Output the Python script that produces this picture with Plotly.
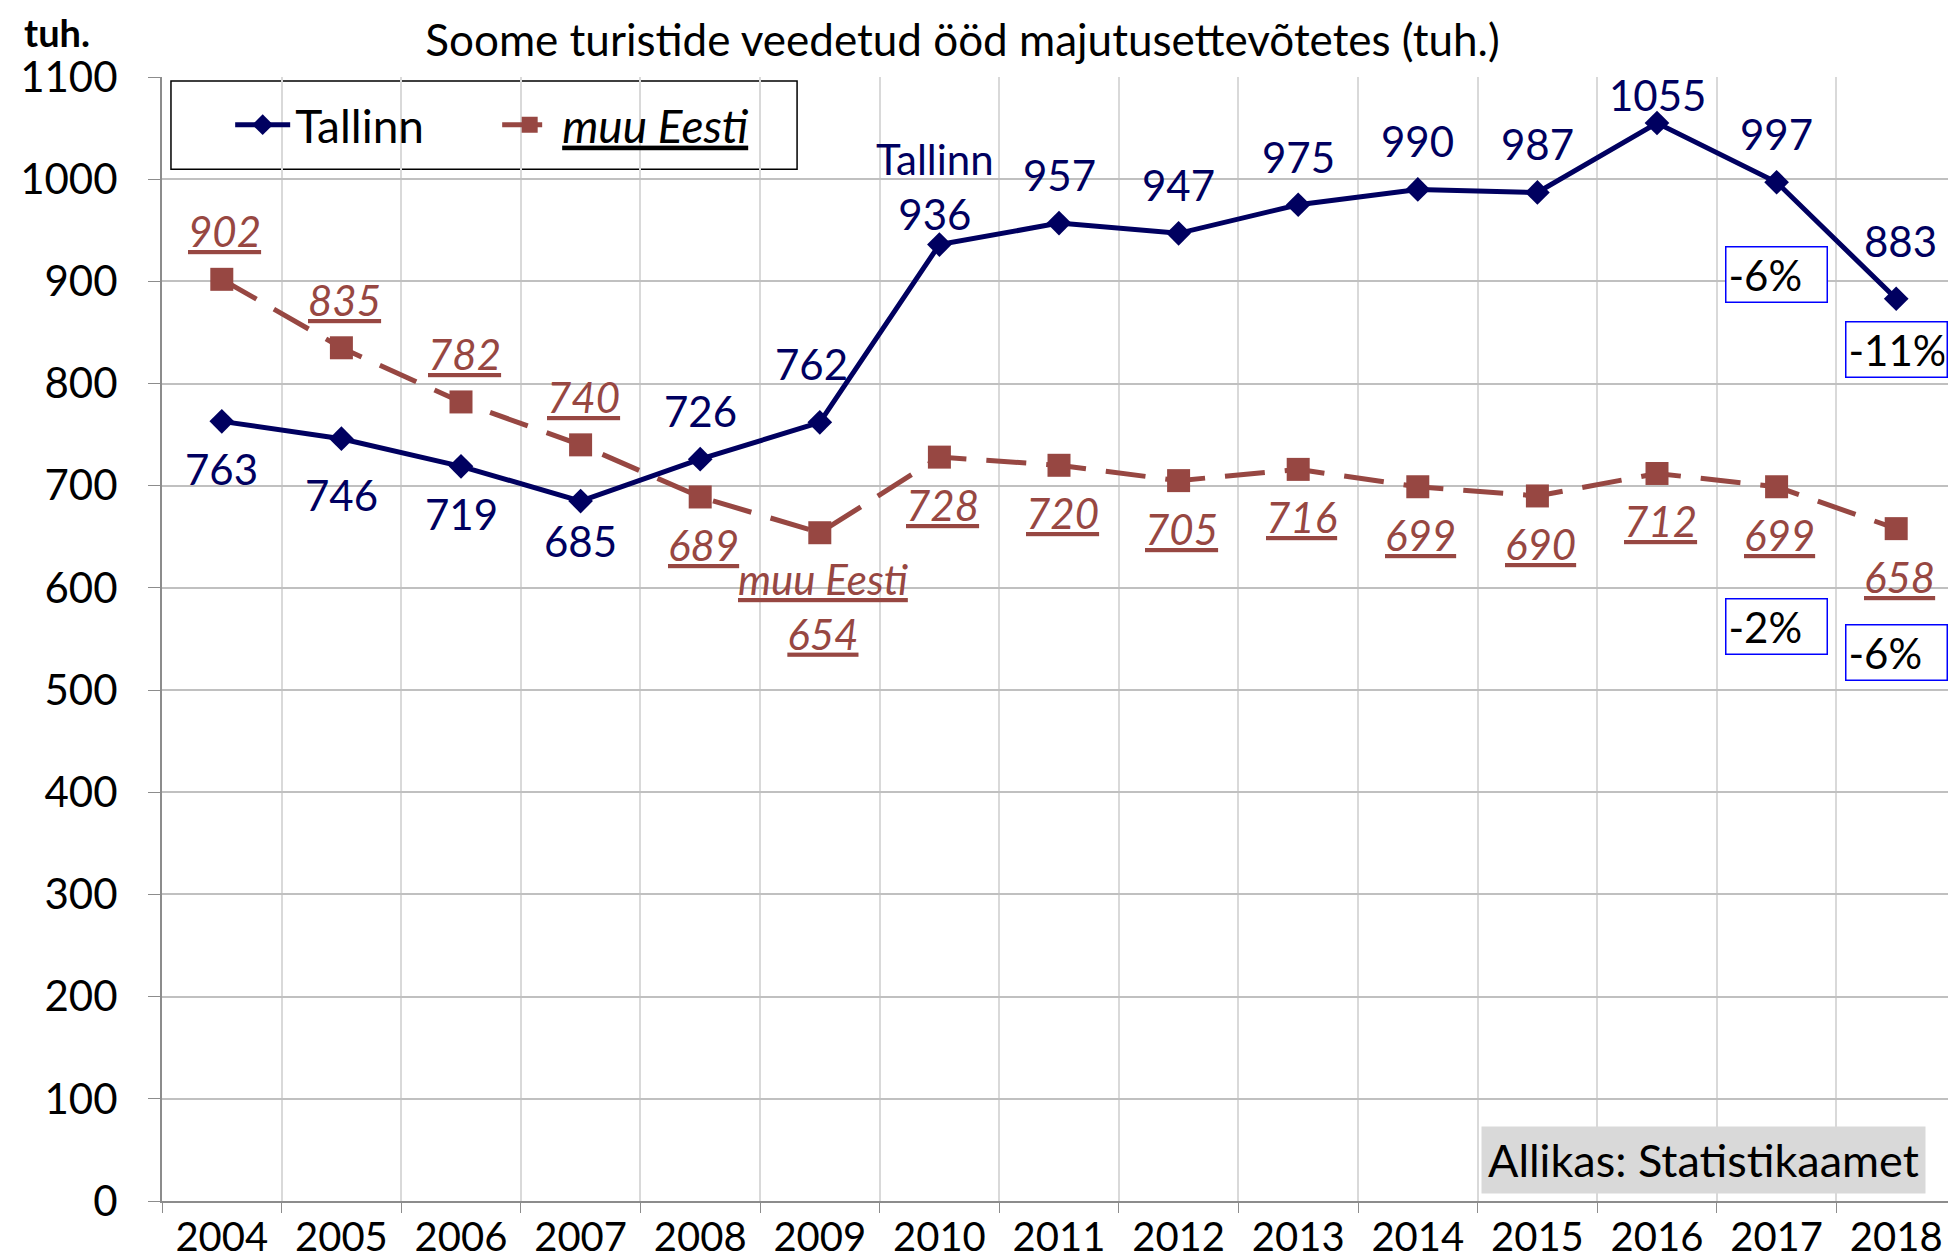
import plotly.graph_objects as go

years = [str(y) for y in range(2004, 2019)]
tallinn = [763, 746, 719, 685, 726, 762, 936, 957, 947, 975, 990, 987, 1055, 997, 883]
muu_eesti = [902, 835, 782, 740, 689, 654, 728, 720, 705, 716, 699, 690, 712, 699, 658]

# where each value label sits: +1 above the point, -1 below
tallinn_side = [-1, -1, -1, -1, 1, 1, 1, 1, 1, 1, 1, 1, 1, 1, 1]
muu_side = [1, 1, 1, 1, -1, -1, -1, -1, -1, -1, -1, -1, -1, -1, -1]

# change boxes: (year, value position, text)
changes = [("2017", 907, "-6%"), ("2018", 833, "-11%"),
           ("2017", 562, "-2%"), ("2018", 537, "-6%")]

NAVY = "#000060"
BROWN = "#974742"
FONT = "Lato"

fig = go.Figure()
fig.add_trace(go.Scatter(
    x=years, y=tallinn, name="Tallinn", mode="lines+markers",
    line=dict(color=NAVY, width=5),
    marker=dict(symbol="diamond", size=19, color=NAVY),
))
fig.add_trace(go.Scatter(
    x=years, y=muu_eesti, name="<i><u>muu Eesti</u></i>", mode="lines+markers",
    line=dict(color=BROWN, width=5, dash="40px,20px"),
    marker=dict(symbol="square", size=23, color=BROWN),
))

annotations = []
for i, v in enumerate(tallinn):
    yr = years[i]
    txt = str(v)
    shift = 48 * tallinn_side[i]
    xs = 0
    if yr == "2005":
        shift = -56
    if yr == "2007":
        shift = -40
    if yr == "2010":
        txt = "Tallinn<br>" + txt
        shift = 58
        xs = -4
    if yr == "2016":
        shift = 28
    if yr == "2009":
        xs = -8
        shift = 58
    if yr == "2018":
        shift = 58
        xs = 4
    annotations.append(dict(x=i, y=v, text=txt, showarrow=False, yshift=shift, xshift=xs,
                            font=dict(color=NAVY, size=42, family=FONT)))
for i, v in enumerate(muu_eesti):
    yr = years[i]
    txt = "<i><u>%d</u></i>" % v
    shift = 48 * muu_side[i]
    if yr == "2009":
        txt = "<i><u>muu Eesti</u></i><br><i><u>%d</u></i>" % v
        shift = -74
    annotations.append(dict(x=i, y=v, text=txt, showarrow=False, yshift=shift, xshift=3,
                            font=dict(color=BROWN, size=42, family=FONT)))

for yr, pos, txt in changes:
    annotations.append(dict(x=years.index(yr), y=pos, text=txt, showarrow=False, align="left",
                            xanchor="center", yanchor="middle", width=96,
                            font=dict(color="black", size=42, family=FONT),
                            bordercolor="#0000ff", borderwidth=1.5, borderpad=2,
                            bgcolor="white"))

annotations.append(dict(x=0.859, y=40, xref="paper", yref="y", text="Allikas: Statistikaamet",
                        xanchor="center", yanchor="middle",
                        showarrow=False, bgcolor="#d9d9d9", borderpad=6,
                        font=dict(color="black", size=45, family=FONT)))
annotations.append(dict(x=-0.078, y=1.0398, xref="paper", yref="paper", text="<b>tuh.</b>",
                        showarrow=False, xanchor="left", yanchor="middle",
                        font=dict(color="black", size=38, family=FONT)))

# legend frame drawn as a shape so the entries can sit inside it freely
shapes = [dict(type="rect", xref="paper", yref="paper", x0=0.005, x1=0.354, y0=0.918, y1=0.9965,
               line=dict(color="black", width=1.5), fillcolor="white", layer="between")]

# the page body adds an 8px offset, so the figure is sized to fit the window
fig.update_layout(
    width=1948, height=1252,
    margin=dict(l=154, r=0, t=69, b=53),
    paper_bgcolor="white", plot_bgcolor="white",
    font=dict(family=FONT, size=40, color="black"),
    title=dict(text="Soome turistide veedetud ööd majutusettevõtetes (tuh.)",
               x=0.49, xanchor="center", y=0.974, yanchor="middle",
               font=dict(size=44, color="black", family=FONT)),
    legend=dict(x=0.038, y=0.9575, xanchor="left", yanchor="middle", orientation="h",
                borderwidth=0, bgcolor="rgba(0,0,0,0)",
                font=dict(size=46, color="black", family=FONT),
                entrywidth=197, itemwidth=55),
    annotations=annotations,
    shapes=shapes,
    xaxis=dict(type="category", range=[-0.5, 14.5], tickson="boundaries",
               showgrid=True, gridcolor="#d9d9d9", gridwidth=1.5,
               showline=True, linecolor="#8c8c8c", linewidth=2,
               ticks="outside", ticklen=10, tickcolor="#8c8c8c",
               tickfont=dict(size=40, color="black", family=FONT)),
    yaxis=dict(range=[0, 1100], dtick=100, showgrid=True, gridcolor="#c0c0c0", gridwidth=2,
               showline=True, linecolor="#8c8c8c", linewidth=2, zeroline=False,
               ticks="outside", ticklen=12, tickcolor="#8c8c8c", ticklabelstandoff=22,
               tickfont=dict(size=42, color="black", family=FONT)),
)

fig.write_html("out.html")
